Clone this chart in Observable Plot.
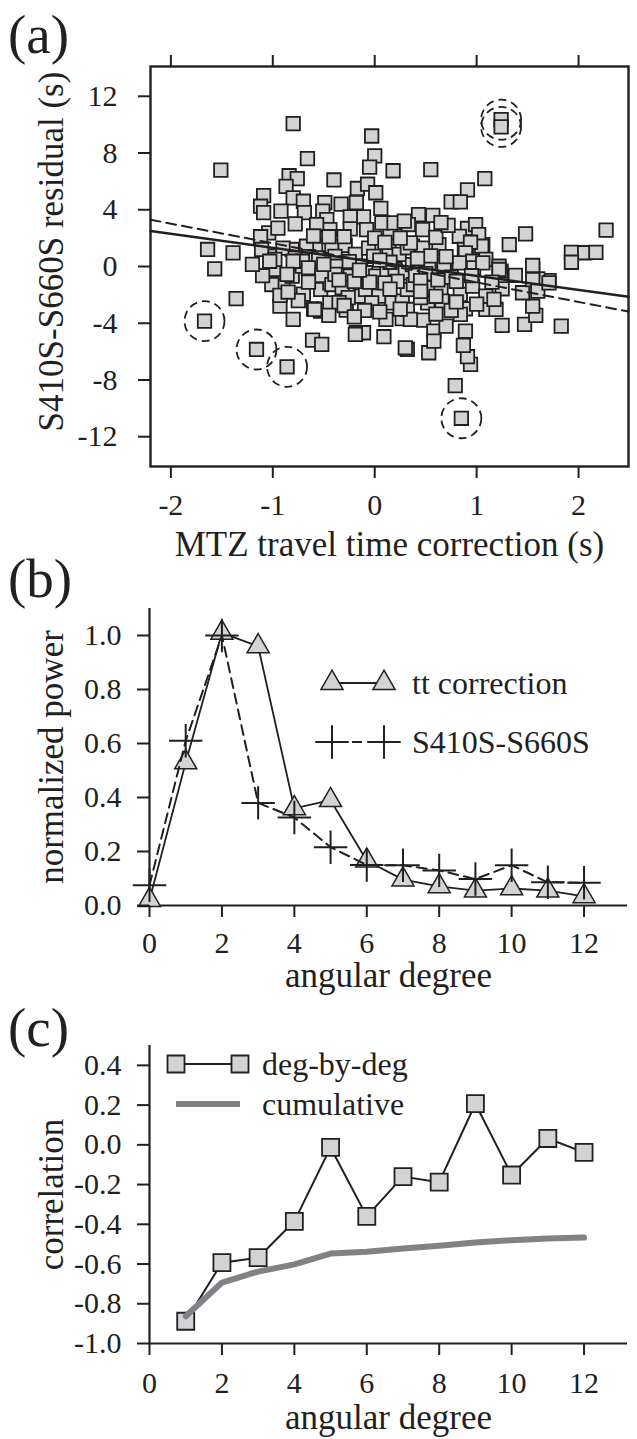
<!DOCTYPE html>
<html><head><meta charset="utf-8">
<script src="https://cdn.jsdelivr.net/npm/d3@7"></script>
<script src="https://cdn.jsdelivr.net/npm/@observablehq/plot@0.6"></script>
<style>
body{margin:0;background:#fff;}
#wrap{position:relative;width:637px;height:1439px;overflow:hidden;font-family:"Liberation Serif","Times New Roman",serif;}
#wrap svg.pl{position:absolute;left:0;font-family:"Liberation Serif","Times New Roman",serif !important;font-size:30px !important;color:#231f20 !important;background:transparent !important;overflow:visible !important;}
#ov{position:absolute;left:0;top:0;}
</style></head><body><div id="wrap"></div>
<script>
// ---------- Panel (a) data ----------
const xCorr = [-0.80,-0.03,-0.66,-1.51,0.00,-0.05,-0.40,-0.84,-0.76,-0.87,-1.09,-0.80,-0.70,-1.12,-1.09,-0.92,-0.69,-0.49,-0.33,-0.51,
 -0.18,-0.17,-0.07,0.01,0.06,-0.11,-0.24,-0.47,-0.78,-0.44,-0.24,-0.08,-0.57,-1.04,-1.12,-1.64,-1.39,0.18,1.24,1.24,
 0.55,1.08,0.91,0.75,0.84,0.43,0.57,0.33,0.15,0.91,0.99,0.83,1.48,1.32,2.27,1.93,2.06,2.17,0.63,0.37,
 0.47,1.06,1.03,0.88,-1.57,-1.36,-1.67,-1.16,-0.86,-0.80,-0.61,-0.52,-0.18,-0.11,0.09,-0.93,-0.53,-0.60,-0.28,-0.90,
 -0.81,-1.01,-0.99,-1.03,-0.53,-0.44,-0.71,-0.63,-0.44,-0.24,-0.14,0.85,0.79,0.94,0.91,0.87,0.89,0.32,0.53,1.25,
 1.47,1.83,0.89,0.48,0.27,0.58,1.58,1.55,1.71,1.60,1.55,1.38,1.24,1.45,1.25,1.09,1.19,1.93,0.07,0.19,
 0.29,-0.42,-0.29,-0.58,-0.67,-0.81,-0.90,-1.11,-0.78,-0.65,-0.55,-0.39,-0.19,-0.06,-0.01,0.14,0.24,0.32,-0.98,-0.71,
 0.47,0.35,1.02,1.05,0.94,0.89,0.68,0.96,1.09,1.22,1.55,-1.03,-0.80,-0.65,-0.86,-0.93,-0.52,-0.42,-0.59,-0.37,
 -0.39,-0.24,-0.32,-0.26,-0.19,-0.14,-0.09,0.01,0.12,0.20,0.30,-0.09,0.04,0.17,0.27,-0.03,0.11,0.30,0.32,0.32,
 0.37,0.53,0.68,0.83,0.97,1.06,1.22,0.38,0.53,0.65,0.84,0.96,1.09,1.55,1.60,1.71,0.52,0.66,1.17,0.35,
 0.70,0.84,0.58,0.40,0.50,0.22,0.45,0.75,0.62,0.10,-0.20,0.80,0.15,-0.25,0.55,0.70,-0.10,0.05,0.75,0.45,
 0.60,1.00,-0.35,-0.70,-0.75,-1.10,-1.20,0.25,-0.30,0.00,-0.60,0.60,0.72,
 -0.30,-0.45,-0.20,-0.65,-0.35,-0.05,0.15,0.45,0.60,0.80,-0.15,0.05,0.42,-0.50,-0.85,0.25,0.95,1.15,-0.45,0.10,
 -0.95,0.65];
const resid = [10.07,9.20,7.60,6.80,7.80,7.00,6.10,6.40,6.20,5.65,5.00,4.84,4.60,4.25,3.80,3.90,3.80,4.50,4.40,3.90,
 4.50,5.50,5.80,5.20,4.10,3.50,3.50,3.30,3.00,2.60,2.65,2.60,2.96,2.37,2.10,1.20,0.96,6.75,10.35,9.84,
 6.83,6.20,5.40,4.56,4.56,3.66,3.60,2.96,2.37,2.68,2.96,2.13,2.30,1.55,2.56,1.00,0.97,1.00,1.55,1.43,
 1.30,1.55,1.30,1.20,-0.16,-2.27,-3.85,-5.85,-7.07,-3.73,-5.19,-5.49,-4.67,-4.67,-4.95,-2.80,-3.15,-2.98,-3.08,-1.39,
 -0.68,-1.27,-0.21,0.73,-1.62,-1.15,0.02,0.61,-2.56,-1.50,-2.09,-10.70,-8.40,-6.90,-6.36,-5.56,-4.55,-5.85,-6.08,-4.15,
 -4.08,-4.20,-2.98,-3.78,-3.68,-4.55,-3.45,-2.80,-1.00,-0.87,-0.21,-0.63,-0.33,-1.85,-1.57,-3.03,-3.03,0.30,3.08,3.08,
 3.20,1.43,1.48,1.43,1.43,1.20,1.30,1.20,0.60,0.70,0.60,0.72,0.85,1.30,0.72,1.08,0.85,1.32,0.50,0.37,
 2.60,1.67,2.25,1.43,1.71,0.96,0.37,0.37,0.50,0.02,0.07,0.37,0.37,-0.09,-0.56,-2.04,-0.63,-1.27,-3.03,0.02,
 -0.56,-0.68,-1.50,-2.20,-4.79,0.02,-0.44,-0.68,-0.44,-0.21,-0.44,-1.62,-2.09,-2.56,-2.44,-2.56,-3.73,-5.73,-1.62,-3.03,
 0.14,0.26,0.02,0.26,-0.09,0.26,-0.21,-1.27,-1.50,-1.62,-1.97,-1.39,-2.09,-0.92,-1.74,-1.15,-2.56,-2.44,-2.32,-3.73,
 -4.20,-3.38,-5.26,-0.63,-0.50,-1.05,-1.00,-0.75,-0.95,-1.15,-1.05,-1.05,0.30,0.35,0.75,0.70,-3.10,-3.20,-3.10,-2.20,
 -3.35,-2.65,-2.55,-1.95,-2.40,-0.65,0.15,2.00,2.10,2.00,2.15,2.05,2.90,
 -2.75,-3.45,-3.55,-1.10,-0.95,-1.10,-1.60,-1.75,-2.10,-2.50,-0.25,0.45,0.55,0.15,-1.80,-3.00,-0.65,-1.10,2.10,1.70,
 2.70,3.10];
// indices of circled outliers
const outlierIdx = [38, 39, 66, 67, 68, 91];
// least-squares fit lines (intercept, slope)
const fitSolid = {a: 0.33, b: -0.99};
const fitDashed = {a: 0.26, b: -1.38};
const xTicksA = [-2, -1, 0, 1, 2];
const yTicksA = [-12, -8, -4, 0, 4, 8, 12];
const xTitleA = "MTZ travel time correction (s)";
const yTitleA = "S410S-S660S residual (s)";

// ---------- Panel (b) data ----------
const degB = [0,1,2,3,4,5,6,7,8,9,10,11,12];
const ttPower = [0.02,0.53,1.01,0.96,0.36,0.39,0.166,0.096,0.071,0.055,0.063,0.055,0.034];
const resPower = [0.075,0.61,1.0,0.38,0.326,0.216,0.15,0.149,0.13,0.098,0.149,0.086,0.084];
const xTicksBC = [0,2,4,6,8,10,12];
const yTicksB = [0,0.2,0.4,0.6,0.8,1.0];
const xTitleBC = "angular degree";
const yTitleB = "normalized power";
const legendB = ["tt correction", "S410S-S660S"];

// ---------- Panel (c) data ----------
const degC = [1,2,3,4,5,6,7,8,9,10,11,12];
const corrDeg = [-0.888,-0.593,-0.568,-0.385,-0.013,-0.36,-0.16,-0.188,0.207,-0.152,0.032,-0.038];
const corrCum = [-0.863,-0.693,-0.638,-0.602,-0.547,-0.538,-0.522,-0.508,-0.492,-0.48,-0.472,-0.467];
const yTicksC = [-1.0,-0.8,-0.6,-0.4,-0.2,0.0,0.2,0.4];
const yTitleC = "correlation";
const legendC = ["deg-by-deg", "cumulative"];
const panelLabels = ["(a)", "(b)", "(c)"];

// ---------- styles ----------
const ink = "#231f20", gray = "#d1d3d4", cumGray = "#808285";
const FONT = "'Liberation Serif', 'Times New Roman', serif";
const baseStyle = "font-family:'Liberation Serif','Times New Roman',serif;font-size:30px;color:#231f20;background:transparent;overflow:visible;";
const wrap = document.getElementById("wrap");
function place(el, top){ el.classList.add("pl"); el.style.top = top + "px"; wrap.appendChild(el); }
const yTitle = (t, dx, dy) => Plot.text([t], {text: d => d, frameAnchor: "left", dx, dy, rotate: -90,
  textAnchor: "middle", lineAnchor: "top", fontSize: 35, fill: ink});
const xTitle = (t, dy) => Plot.text([t], {text: d => d, frameAnchor: "bottom", dy, textAnchor: "middle",
  lineAnchor: "top", fontSize: 35, fill: ink});

// ---------- Panel (a) ----------
const pts = xCorr.map((x, i) => ({x, y: resid[i]}));
const outliers = outlierIdx.map(i => pts[i]);
const xDomA = [-2.2, 2.49];
const fitLine = f => xDomA.map(x => ({x, y: f.a + f.b * x}));
const plotA = Plot.plot({
  width: 637, height: 570, marginTop: 66, marginLeft: 150, marginRight: 9, marginBottom: 104,
  style: baseStyle,
  x: {domain: xDomA}, y: {domain: [-14.1, 14.1]},
  marks: [
    Plot.dot(pts, {x: "x", y: "y", symbol: "square", r: 7.6, fill: gray, stroke: ink, strokeWidth: 1.8}),
    Plot.line(fitLine(fitSolid), {x: "x", y: "y", stroke: ink, strokeWidth: 2.5}),
    Plot.line(fitLine(fitDashed), {x: "x", y: "y", stroke: ink, strokeWidth: 2, strokeDasharray: "10,6"}),
    Plot.dot(outliers, {x: "x", y: "y", r: 20, fill: "none", stroke: ink, strokeWidth: 1.8, strokeDasharray: "8,5"}),
    Plot.frame({stroke: ink, strokeWidth: 2.4}),
    Plot.axisX({ticks: xTicksA, tickSize: 12, tickPadding: 15, tickFormat: d => String(d), label: null, strokeWidth: 2}),
    Plot.axisX({anchor: "top", ticks: xTicksA, tickSize: 12, tickFormat: () => "", label: null, strokeWidth: 2}),
    Plot.axisY({ticks: yTicksA, tickSize: 12, tickPadding: 21, tickFormat: d => String(d), label: null, strokeWidth: 2}),
    xTitle(xTitleA, 65),
    yTitle(yTitleA, -112, -15)
  ]
});
place(plotA, 0);

// ---------- Panel (b) ----------
const ttRows = degB.map((d, i) => ({d, v: ttPower[i]}));
const resRows = degB.map((d, i) => ({d, v: resPower[i]}));
const plotB = Plot.plot({
  width: 637, height: 440, marginTop: 38, marginLeft: 149, marginRight: 10, marginBottom: 105,
  style: baseStyle,
  x: {domain: [0, 13.2]}, y: {domain: [0, 1.1]},
  marks: [
    Plot.ruleX([0], {stroke: ink, strokeWidth: 2.2}),
    Plot.ruleY([0], {stroke: ink, strokeWidth: 2.2}),
    Plot.line(ttRows, {x: "d", y: "v", stroke: ink, strokeWidth: 1.8}),
    Plot.dot(ttRows, {x: "d", y: "v", symbol: "triangle", r: 8.2, fill: gray, stroke: ink, strokeWidth: 1.5}),
    Plot.line(resRows, {x: "d", y: "v", stroke: ink, strokeWidth: 2, strokeDasharray: "10,6"}),
    Plot.dot(resRows, {x: "d", y: "v", symbol: "plus", r: 10.8, stroke: ink, strokeWidth: 2}),
    Plot.axisX({ticks: xTicksBC, tickSize: 12, tickPadding: 14, tickFormat: d => String(d), label: null, strokeWidth: 2}),
    Plot.axisY({ticks: yTicksB, tickSize: 12, tickPadding: 16, tickFormat: d => d.toFixed(1), label: null, strokeWidth: 2}),
    xTitle(xTitleBC, 57),
    yTitle(yTitleB, -111, 0)
  ]
});
place(plotB, 570);

// ---------- Panel (c) ----------
const degRows = degC.map((d, i) => ({d, v: corrDeg[i]}));
const cumRows = degC.map((d, i) => ({d, v: corrCum[i]}));
const plotC = Plot.plot({
  width: 637, height: 429, marginTop: 35, marginLeft: 149, marginRight: 10, marginBottom: 96,
  style: baseStyle,
  x: {domain: [0, 13.2]}, y: {domain: [-1, 0.5]},
  marks: [
    Plot.ruleX([0], {stroke: ink, strokeWidth: 2.2}),
    Plot.ruleY([-1], {stroke: ink, strokeWidth: 2.2}),
    Plot.line(degRows, {x: "d", y: "v", stroke: ink, strokeWidth: 2}),
    Plot.dot(degRows, {x: "d", y: "v", symbol: "square", r: 9.6, fill: gray, stroke: ink, strokeWidth: 1.8}),
    Plot.line(cumRows, {x: "d", y: "v", stroke: cumGray, strokeWidth: 6}),
    Plot.axisX({ticks: xTicksBC, tickSize: 12, tickPadding: 16, tickFormat: d => String(d), label: null, strokeWidth: 2}),
    Plot.axisY({ticks: yTicksC, tickSize: 12, tickPadding: 16, tickFormat: d => d.toFixed(1), label: null, strokeWidth: 2}),
    xTitle(xTitleBC, 61),
    yTitle(yTitleC, -111, 0)
  ]
});
place(plotC, 1010);

// ---------- overlay: panel labels and legends ----------
const ov = d3.select(wrap).append("svg").attr("id", "ov").attr("width", 637).attr("height", 1439)
  .style("font-family", FONT).attr("fill", ink);
const labelBase = [53, 597, 1046];
panelLabels.forEach((t, i) => ov.append("text").attr("x", 8).attr("y", labelBase[i]).attr("font-size", 55).text(t));

const sym = (type, r) => d3.symbol(type, Math.PI * r * r)();
// legend (b)
const lb = ov.append("g");
lb.append("line").attr("x1", 332).attr("x2", 384).attr("y1", 683).attr("y2", 683).attr("stroke", ink).attr("stroke-width", 1.8);
[332, 384].forEach(x => lb.append("path").attr("d", sym(d3.symbolTriangle, 8.2)).attr("transform", `translate(${x},683)`)
  .attr("fill", gray).attr("stroke", ink).attr("stroke-width", 1.5));
lb.append("text").attr("x", 412).attr("y", 694).attr("font-size", 32).text(legendB[0]);
lb.append("line").attr("x1", 332).attr("x2", 384).attr("y1", 742).attr("y2", 742).attr("stroke", ink).attr("stroke-width", 2).attr("stroke-dasharray", "10,6").attr("stroke-dashoffset", -4);
[332, 384].forEach(x => lb.append("path").attr("d", sym(d3.symbolPlus, 10.8)).attr("transform", `translate(${x},742)`)
  .attr("fill", "none").attr("stroke", ink).attr("stroke-width", 2));
lb.append("text").attr("x", 412).attr("y", 753).attr("font-size", 32).text(legendB[1]);
// legend (c)
const lc = ov.append("g");
lc.append("line").attr("x1", 176).attr("x2", 240).attr("y1", 1064).attr("y2", 1064).attr("stroke", ink).attr("stroke-width", 2);
[176, 240].forEach(x => lc.append("path").attr("d", sym(d3.symbolSquare, 9.6)).attr("transform", `translate(${x},1064)`)
  .attr("fill", gray).attr("stroke", ink).attr("stroke-width", 1.8));
lc.append("text").attr("x", 262).attr("y", 1075).attr("font-size", 32).text(legendC[0]);
lc.append("line").attr("x1", 176).attr("x2", 240).attr("y1", 1104).attr("y2", 1104).attr("stroke", cumGray).attr("stroke-width", 6);
lc.append("text").attr("x", 262).attr("y", 1115).attr("font-size", 32).text(legendC[1]);
</script></body></html>
